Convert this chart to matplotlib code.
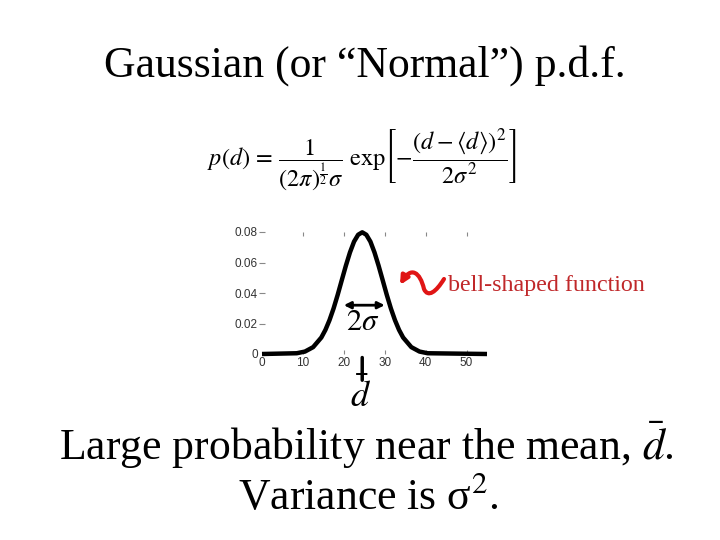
import matplotlib
matplotlib.use("Agg")
import matplotlib.pyplot as plt
from matplotlib.patches import FancyArrowPatch
from matplotlib.path import Path

# curve (d, p(d))
d_vals = [0, 8.5, 10.5, 12.5, 14.5, 15.5, 16.5, 17.5, 18.5, 19.5, 20.5, 21.5,
          22.5, 23.5, 24.5, 25.5, 26.5, 27.5, 28.5, 29.5, 30.5, 31.5, 32.5,
          33.5, 34.5, 36.5, 38.5, 40.5, 55]
p_vals = [0, 0.0005, 0.0016, 0.0045, 0.0108, 0.0158, 0.0222, 0.0299, 0.0388,
          0.0484, 0.0579, 0.0666, 0.0737, 0.0782, 0.0798, 0.0782, 0.0737,
          0.0666, 0.0579, 0.0484, 0.0388, 0.0299, 0.0222, 0.0158, 0.0108,
          0.0045, 0.0016, 0.0005, 0]
x_ticks = [0, 10, 20, 30, 40, 50]
y_ticks = [0, 0.02, 0.04, 0.06, 0.08]
y_labels = ["0", "0.02", "0.04", "0.06", "0.08"]
mean_d = 24.5
sigma_span = (20, 30)

plt.rcParams["mathtext.fontset"] = "stix"
serif = ["Liberation Serif", "DejaVu Serif"]

fig = plt.figure(figsize=(7.2, 5.4), dpi=100)
W, H = 720, 540


def px(x, y):
    return (x / W, 1 - y / H)


# titles and text
fig.text(*px(365, 66), "Gaussian (or \u201cNormal\u201d) p.d.f.", family=serif,
         fontsize=31.5, ha="center", va="center")
fig.text(*px(362, 160),
         r"$p(d)\,=\,\dfrac{1}{(2\pi)^{\frac{1}{2}}\sigma}\ \mathrm{exp}\left[-\dfrac{(d-\langle d\rangle)^2}{2\sigma^2}\right]$",
         fontsize=17.5, ha="center", va="center")
fig.text(*px(366, 445), r"Large probability near the mean, $\bar{d}$.", family=serif,
         fontsize=31.5, ha="center", va="center")
fig.text(*px(368, 497), "Variance is \u03c3$^2$.", family=serif,
         fontsize=31.5, ha="center", va="center")

# the small plot
ax = fig.add_axes([262 / W, 1 - 354 / H, 225 / W, 122 / H])
ax.plot(d_vals, p_vals, color="black", lw=3.2, clip_on=False,
        solid_capstyle="butt")
ax.set_xlim(0, 55)
ax.set_ylim(0, 0.08)
for s in ax.spines.values():
    s.set_visible(False)
ax.set_xticks(x_ticks)
ax.set_yticks(y_ticks)
ax.set_yticklabels(y_labels)
ax.tick_params(axis="x", direction="in", length=3, width=0.8, color="#888888",
               labelsize=8.5, pad=2, top=True, bottom=True)
ax.tick_params(axis="y", direction="inout", length=4, width=0.8,
               color="#888888", labelsize=8.5, pad=1)
ax.xaxis.get_major_ticks()[0].tick2line.set_visible(False)
ax.xaxis.get_major_ticks()[0].tick1line.set_visible(False)
ax.yaxis.get_major_ticks()[0].tick1line.set_visible(False)
for lab in ax.get_xticklabels() + ax.get_yticklabels():
    lab.set_family(["Liberation Sans", "DejaVu Sans"])
    lab.set_color("#333333")

# 2 sigma arrow
ax.annotate("", xy=(sigma_span[0], 0.032), xytext=(sigma_span[1], 0.032),
            arrowprops=dict(arrowstyle="<|-|>", color="black", lw=2,
                            mutation_scale=10, shrinkA=0, shrinkB=0))
ax.text(sum(sigma_span) / 2 - 0.5, 0.021, r"$2\sigma$", fontsize=22,
        ha="center", va="center")

# mean marker below axis
ax.annotate("", xy=(mean_d, -0.0005), xytext=(mean_d, -0.019),
            xycoords="data", arrowprops=dict(arrowstyle="-", lw=2.5,
                                             color="black"),
            annotation_clip=False)
fig.text(*px(361, 396), r"$\bar{d}$", fontsize=26, ha="center", va="center")

# red squiggle pointing at the curve
verts = [px(400, 285), px(411, 266), px(420, 272), px(424, 289),
         px(428, 298), px(436, 292), px(444, 279)]
codes = [Path.MOVETO, Path.CURVE4, Path.CURVE4, Path.CURVE4,
         Path.CURVE4, Path.CURVE4, Path.CURVE4]
squig = FancyArrowPatch(path=Path(verts, codes), arrowstyle="<|-",
                        mutation_scale=12, lw=3, color="#e01515",
                        transform=fig.transFigure)
fig.add_artist(squig)
fig.text(*px(448, 285), "bell-shaped function", family=serif, fontsize=17.3,
         color="#c0282a", ha="left", va="center")

fig.savefig("out.png", dpi=100)
